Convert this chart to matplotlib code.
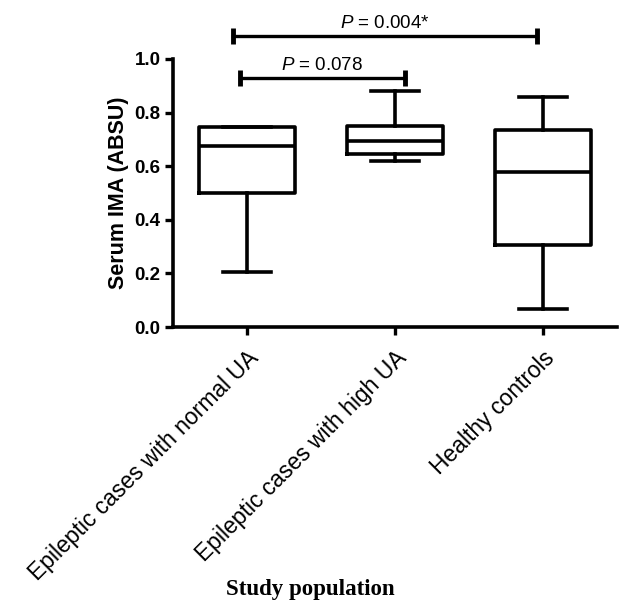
import matplotlib
matplotlib.use('agg')
import matplotlib.pyplot as plt

plt.rcParams['font.family'] = ['Liberation Sans', 'DejaVu Sans']
plt.rcParams['mathtext.fontset'] = 'custom'
plt.rcParams['mathtext.it'] = 'Liberation Sans:italic'
plt.rcParams['mathtext.rm'] = 'Liberation Sans'

groups = ["Epileptic cases with normal UA", "Epileptic cases with high UA", "Healthy controls"]
whislo = [0.206, 0.62, 0.068]
q1 = [0.50, 0.645, 0.306]
med = [0.675, 0.695, 0.577]
q3 = [0.745, 0.75, 0.735]
whishi = [0.745, 0.88, 0.86]

# comparisons: (x start, x end, y level, label)
comp_x0 = [-0.05, -0.095]
comp_x1 = [1.07, 1.96]
comp_y = [0.93, 1.086]
comp_txt = ["$P$ = 0.078", "$P$ = 0.004*"]

fig = plt.figure(figsize=(6.21, 6.05), dpi=100)
ax = fig.add_axes([0.2786, 0.4595, 0.715, 0.443])

stats = []
for i in range(len(groups)):
    stats.append(dict(med=med[i], q1=q1[i], q3=q3[i], whislo=whislo[i],
                      whishi=whishi[i], fliers=[], label=groups[i]))

lw = 2.6
ax.bxp(stats, positions=range(len(groups)), widths=0.65, showfliers=False,
       boxprops=dict(color='black', linewidth=lw),
       medianprops=dict(color='black', linewidth=lw),
       whiskerprops=dict(color='black', linewidth=lw),
       capprops=dict(color='black', linewidth=lw), capwidths=0.33)

for x0, x1, y, t in zip(comp_x0, comp_x1, comp_y, comp_txt):
    ax.plot([x0, x1], [y, y], color='black', lw=2.4, clip_on=False)
    ax.plot([x0, x1], [y, y], ls='none', marker='|', ms=11, mew=3.5,
            color='black', clip_on=False)
    ax.text((x0 + x1) / 2 + 0.0, y + 0.014, t, ha='center', va='bottom',
            fontsize=13.5, clip_on=False)

ax.set_xlim(-0.5, 2.5)
ax.set_ylim(0, 1.0)
ax.set_yticks([0.0, 0.2, 0.4, 0.6, 0.8, 1.0])
ax.set_yticklabels([f"{v:.1f}" for v in [0.0, 0.2, 0.4, 0.6, 0.8, 1.0]],
                   fontsize=13.5, fontweight='bold')
ax.set_xticks(range(len(groups)))
ax.set_xticklabels(groups, rotation=45, ha='right', rotation_mode='anchor',
                   fontsize=16.5)
ax.tick_params(axis='both', width=2.4, length=6, direction='out')
ax.tick_params(axis='x', pad=8)
ax.tick_params(axis='y', pad=3)
for s in ['top', 'right']:
    ax.spines[s].set_visible(False)
for s in ['left', 'bottom']:
    ax.spines[s].set_linewidth(2.6)
ax.set_ylabel("Serum IMA (ABSU)", fontsize=15.5, fontweight='bold', labelpad=4)

fig.text(310 / 621, 1 - 590 / 605, "Study population", ha='center', va='center',
         fontsize=16.5, fontweight='bold', family='Liberation Serif')

fig.savefig("out.png", dpi=100)
